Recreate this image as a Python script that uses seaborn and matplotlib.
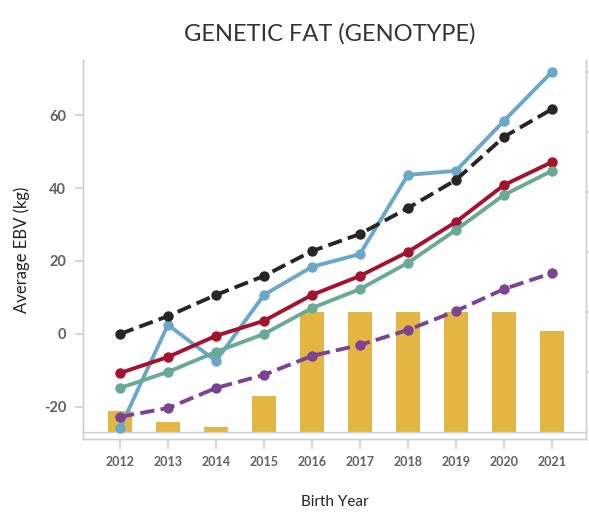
import numpy as np
import pandas as pd
import matplotlib
matplotlib.use("Agg")
import matplotlib.pyplot as plt
import seaborn as sns

# data
years = [2012, 2013, 2014, 2015, 2016, 2017, 2018, 2019, 2020, 2021]
blue_line = [-25.8, 2.5, -7.4, 10.7, 18.4, 21.9, 43.6, 44.7, 58.4, 71.8]
black_dashed = [0.0, 4.9, 10.7, 15.9, 22.7, 27.4, 34.5, 42.2, 54.0, 61.6]
red_line = [-10.7, -6.3, -0.5, 3.6, 10.7, 15.9, 22.5, 30.7, 40.8, 47.1]
green_line = [-14.8, -10.4, -4.9, 0.0, 7.1, 12.3, 19.5, 28.5, 38.1, 44.7]
purple_dashed = [-22.7, -20.3, -14.8, -11.2, -6.0, -3.0, 1.1, 6.3, 12.3, 16.7]
bar_counts = [35, 17, 8, 60, 200, 200, 200, 200, 200, 168]

yticks = [-20, 0, 20, 40, 60]

sns.set_theme(style="white")
plt.rcParams["font.family"] = ["Lato", "DejaVu Sans"]

fig = plt.figure(figsize=(5.89, 5.18), dpi=100)
ax = fig.add_axes([83 / 589, 1 - 439 / 518, (586 - 83) / 589, (439 - 60) / 518])
ax2 = ax.twinx()

# bars on secondary axis (no labels)
bars = pd.DataFrame({"year": years, "count": bar_counts})
sns.barplot(data=bars, x="year", y="count", native_scale=True, width=0.5,
            color="#e3b542", saturation=1, linewidth=0, ax=ax2)
ax2.set_ylim(-11.67, 620)
ax2.set_yticks([100, 200, 300, 400, 500, 600])
ax2.set_yticklabels([])
ax2.set_ylabel("")
ax2.tick_params(axis="y", length=3, color="#d0d0d0", right=True)

# lines on primary axis, drawn above bars
ax.set_zorder(ax2.zorder + 1)
ax.patch.set_visible(False)

series = [
    (blue_line, "#6ba7c8", "-"),
    (black_dashed, "#262626", "--"),
    (red_line, "#a3122f", "-"),
    (green_line, "#6aa996", "-"),
    (purple_dashed, "#7b4391", "--"),
]
for vals, col, ls in series:
    df = pd.DataFrame({"year": years, "val": vals})
    sns.lineplot(data=df, x="year", y="val", color=col, linestyle=ls,
                 linewidth=2.8, marker="o", markersize=7.5,
                 markeredgewidth=0, ax=ax)

ax.axhline(-26.85, color="#d0d0d0", linewidth=1, zorder=0)

ax.set_ylim(-28.77, 75.07)
ax.set_xlim(2012 - 0.77, 2021 + 0.71)
ax2.set_xlim(ax.get_xlim())
ax.set_yticks(yticks)
ax.set_yticklabels([str(t) for t in yticks], fontsize=10.5, fontweight="bold", color="#606060")
ax.set_xticks(years)
ax.set_xticklabels([str(y) for y in years], fontsize=9, fontweight="bold", color="#606060")
ax.tick_params(axis="y", left=True, length=6, color="#d0d0d0", pad=6)
ax.tick_params(axis="x", bottom=True, length=7, color="#d0d0d0", pad=5)

for a in (ax, ax2):
    for s in a.spines.values():
        s.set_color("#d0d0d0")
        s.set_linewidth(1)
    a.spines["top"].set_visible(False)

ax.set_xlabel("Birth Year", fontsize=11, color="#222222", labelpad=20)
ax.set_ylabel("Average EBV (kg)", fontsize=12, color="#222222", labelpad=10)
fig.suptitle("GENETIC FAT (GENOTYPE)", x=0.56, y=0.955, fontsize=17,
             color="#333333")

fig.savefig("out.png", dpi=100)
